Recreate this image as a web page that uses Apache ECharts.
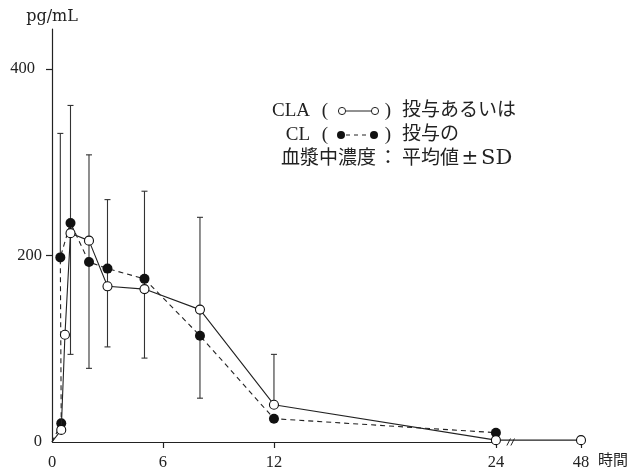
<!DOCTYPE html>
<html>
<head>
<meta charset="utf-8">
<script src="https://cdn.jsdelivr.net/npm/echarts@6/dist/echarts.min.js"></script>
<style>html,body{margin:0;padding:0;background:#fff}#c{width:641px;height:472px}</style>
</head>
<body>
<div id="c"></div>
<script>
// CLA (open circles, solid line)
const claTime  = [0, 0.5, 0.7, 1, 2, 3, 5, 8, 12, 24, 48];
const claValue = [0, 13, 115, 224, 216, 167, 164, 142, 40, 2, 2];
// CL (filled circles, dashed line)
const clTime  = [0, 0.5, 0.45, 1, 2, 3, 5, 8, 12, 24];
const clValue = [0, 20, 198, 235, 193, 186, 175, 114, 25, 10];
// SD bars
const sdTime = [0.45, 1, 2, 3, 5, 8, 12];
const sdLow  = [198, 94, 79, 102, 90, 47, 40];
const sdHigh = [331, 361, 308, 260, 269, 241, 94];
// ticks
const xTicks = [0, 6, 12, 24, 48];
const yTicks = [0, 200, 400];

const FONT = "'Liberation Serif', 'Noto Sans CJK JP', serif";
const INK = '#222';

const chart = echarts.init(document.getElementById('c'));

function pts(times, vals) {
  return times.map((t, i) => t === 0
    ? { value: [t, vals[i]], symbolSize: 0 }
    : { value: [t, vals[i]] });
}

chart.setOption({
  animation: false,
  grid: { left: 52, right: 60, top: 29, bottom: 30 },
  xAxis: {
    type: 'value', min: 0, max: 48,
    breaks: [{ start: 24, end: 48, gap: 4.6 }],
    breakArea: { show: false },
    axisLine: { lineStyle: { color: INK, width: 1.2 } },
    axisTick: { length: 6, customValues: xTicks.slice(1), lineStyle: { color: INK, width: 1.2 } },
    axisLabel: { customValues: xTicks, margin: 12, fontFamily: FONT, fontSize: 16.5, color: INK },
    splitLine: { show: false },
    name: '時間', nameLocation: 'end', nameGap: 17,
    nameTextStyle: { fontFamily: FONT, fontSize: 15, color: INK, verticalAlign: 'top', padding: [12, 0, 0, 0] }
  },
  yAxis: {
    type: 'value', min: 0, max: 443,
    axisLine: { show: true, lineStyle: { color: INK, width: 1.2 } },
    axisTick: { show: true, length: 6, customValues: yTicks.slice(1), lineStyle: { color: INK, width: 1.2 } },
    axisLabel: {
      customValues: yTicks, margin: 10, fontFamily: FONT, fontSize: 16.5, color: INK,
      formatter: v => v === 400 ? '{p|' + v + '}' : String(v),
      rich: { p: { fontFamily: FONT, fontSize: 16.5, color: INK, padding: [0, 7, 0, 0] } }
    },
    splitLine: { show: false },
    name: 'pg/mL', nameLocation: 'end', nameGap: 4,
    nameTextStyle: { fontFamily: "'DejaVu Serif', serif", fontSize: 16, color: INK, align: 'center' }
  },
  series: [
    {
      type: 'custom', z: 1,
      data: sdTime.map((t, i) => [t, sdLow[i], sdHigh[i]]),
      encode: { x: 0, y: [1, 2] },
      renderItem: function (params, api) {
        const x = api.value(0), lo = api.value(1), hi = api.value(2);
        const a = api.coord([x, lo]), b = api.coord([x, hi]);
        const w = 3, st = { stroke: '#333', lineWidth: 1.1 };
        return { type: 'group', children: [
          { type: 'line', shape: { x1: b[0], y1: b[1], x2: a[0], y2: a[1] }, style: st },
          { type: 'line', shape: { x1: b[0] - w, y1: b[1], x2: b[0] + w, y2: b[1] }, style: st },
          { type: 'line', shape: { x1: a[0] - w, y1: a[1], x2: a[0] + w, y2: a[1] }, style: st }
        ]};
      }
    },
    {
      name: 'CL', type: 'line', z: 3,
      data: pts(clTime, clValue),
      symbol: 'circle', symbolSize: 10,
      lineStyle: { color: INK, width: 1.1, type: [5, 4] },
      itemStyle: { color: '#111', borderColor: '#111', borderWidth: 0 }
    },
    {
      name: 'CLA', type: 'line', z: 4,
      data: pts(claTime, claValue),
      symbol: 'circle', symbolSize: 9,
      lineStyle: { color: INK, width: 1.1 },
      itemStyle: { color: '#fff', borderColor: '#111', borderWidth: 1.1 }
    }
  ]
});

// legend block and break marks
const px24 = chart.convertToPixel({ xAxisIndex: 0 }, 24);
const px48 = chart.convertToPixel({ xAxisIndex: 0 }, 48);
const y0 = chart.convertToPixel({ yAxisIndex: 0 }, 0);
const xb = px24 + (px48 - px24) * 0.15;
const L1 = 111, L2 = 135, L3 = 159;
const tf = (text, x, y, align, size, family) => ({
  type: 'text', x: x, y: y,
  style: { text: text, fontFamily: family || FONT, fontSize: size || 19, fill: INK, align: align, verticalAlign: 'middle' }
});
const ln = (x1, y1, x2, y2, dash) => ({
  type: 'line', shape: { x1, y1, x2, y2 }, style: { stroke: INK, lineWidth: 1, lineDash: dash || null }
});
chart.setOption({
  graphic: [
    tf('CLA', 310, L1, 'right'),
    tf('(', 325, L1, 'center'),
    ln(346, L1, 371, L1),
    { type: 'circle', shape: { cx: 342, cy: L1, r: 3.6 }, style: { fill: '#fff', stroke: INK, lineWidth: 1 } },
    { type: 'circle', shape: { cx: 375, cy: L1, r: 3.6 }, style: { fill: '#fff', stroke: INK, lineWidth: 1 } },
    tf(')', 388, L1, 'center'),
    tf('投与あるいは', 402, L1, 'left'),
    tf('CL', 310, L2, 'right'),
    tf('(', 325, L2, 'center'),
    ln(346, L2, 370, L2, [4, 4]),
    { type: 'circle', shape: { cx: 341, cy: L2, r: 4 }, style: { fill: '#111' } },
    { type: 'circle', shape: { cx: 374, cy: L2, r: 4 }, style: { fill: '#111' } },
    tf(')', 388, L2, 'center'),
    tf('投与の', 402, L2, 'left'),
    tf('血漿中濃度', 376, L3, 'right'),
    tf('：', 388, L3, 'center'),
    tf('平均値', 402, L3, 'left'),
    tf('±', 470, L3, 'center', 20, "'DejaVu Serif', serif"),
    tf('SD', 481, L3, 'left', 21, "'DejaVu Serif', serif"),
    ln(xb - 1.8, y0 + 3.5, xb + 1.8, y0 - 3.5),
    ln(xb + 2.2, y0 + 3.5, xb + 5.8, y0 - 3.5)
  ]
});
</script>
</body>
</html>
